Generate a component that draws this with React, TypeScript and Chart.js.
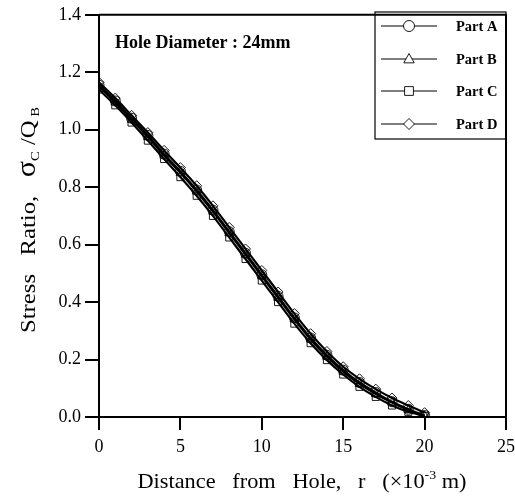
import React, { useEffect, useRef } from "react";
import { Chart, registerables } from "chart.js";

Chart.register(...registerables);

const distances = [0, 1, 2, 3, 4, 5, 6, 7, 8, 9, 10, 11, 12, 13, 14, 15, 16, 17, 18, 19, 20];
const partA = [1.155, 1.1, 1.04, 0.98, 0.915, 0.855, 0.79, 0.72, 0.645, 0.57, 0.495, 0.42, 0.345, 0.275, 0.215, 0.163, 0.12, 0.085, 0.053, 0.027, 0.005];
const partB = [1.15, 1.095, 1.035, 0.975, 0.91, 0.85, 0.785, 0.715, 0.64, 0.565, 0.49, 0.415, 0.34, 0.27, 0.21, 0.158, 0.115, 0.08, 0.05, 0.024, 0.004];
const partC = [1.14, 1.085, 1.025, 0.962, 0.898, 0.835, 0.77, 0.7, 0.625, 0.55, 0.475, 0.4, 0.325, 0.257, 0.198, 0.148, 0.105, 0.07, 0.04, 0.018, 0.003];
const partD = [1.165, 1.11, 1.05, 0.99, 0.928, 0.868, 0.805, 0.735, 0.66, 0.585, 0.51, 0.435, 0.36, 0.29, 0.228, 0.175, 0.133, 0.097, 0.066, 0.04, 0.015];
const seriesNames = ["Part A", "Part B", "Part C", "Part D"];
const seriesMarkers = ["circle", "triangle", "rect", "rectRot"];
const xTicks = [0, 5, 10, 15, 20, 25];
const yTicks = [0, 0.2, 0.4, 0.6, 0.8, 1.0, 1.2, 1.4];

const SERIF = '"Liberation Serif", "DejaVu Serif", serif';

function drawMarker(ctx: CanvasRenderingContext2D, style: string, x: number, y: number, r: number) {
  ctx.beginPath();
  if (style === "circle") {
    ctx.arc(x, y, r, 0, Math.PI * 2);
  } else if (style === "triangle") {
    ctx.moveTo(x, y - r);
    ctx.lineTo(x + r * 0.95, y + r * 0.7);
    ctx.lineTo(x - r * 0.95, y + r * 0.7);
    ctx.closePath();
  } else if (style === "rect") {
    const s = r * 0.8;
    ctx.rect(x - s, y - s, 2 * s, 2 * s);
  } else {
    ctx.moveTo(x, y - r);
    ctx.lineTo(x + r, y);
    ctx.lineTo(x, y + r);
    ctx.lineTo(x - r, y);
    ctx.closePath();
  }
  ctx.fill();
  ctx.stroke();
}

function drawRuns(ctx: CanvasRenderingContext2D, parts: [string, number, number][], targetLen: number, weight: string) {
  let total = 0;
  parts.forEach(([t, s]) => {
    ctx.font = `${weight} ${s}px ${SERIF}`;
    total += ctx.measureText(t).width;
  });
  const k = targetLen / total;
  ctx.save();
  ctx.scale(k, 1);
  let px = -total / 2;
  parts.forEach(([t, s, dy]) => {
    ctx.font = `${weight} ${s}px ${SERIF}`;
    ctx.fillText(t, px, dy);
    px += ctx.measureText(t).width;
  });
  ctx.restore();
}

const decorPlugin = {
  id: "decor",
  afterDraw(chart: any) {
    const ctx: CanvasRenderingContext2D = chart.ctx;
    const { left, right, top, bottom } = chart.chartArea;
    ctx.save();
    ctx.strokeStyle = "#000";
    ctx.lineWidth = 2;
    ctx.beginPath();
    ctx.moveTo(left, top);
    ctx.lineTo(right, top);
    ctx.lineTo(right, bottom);
    ctx.stroke();

    ctx.fillStyle = "#000";
    ctx.font = `bold 18px ${SERIF}`;
    ctx.textAlign = "left";
    ctx.textBaseline = "middle";
    ctx.fillText("Hole Diameter : 24mm", 115, 43);

    // legend box
    const lx = 375, ly = 12, lw = right - 375, lh = 127;
    ctx.lineWidth = 1.2;
    ctx.strokeRect(lx, ly, lw, lh);
    const rows = [26, 59, 91, 124];
    rows.forEach((ry, i) => {
      ctx.lineWidth = 1.2;
      ctx.strokeStyle = "#000";
      ctx.beginPath();
      ctx.moveTo(381, ry);
      ctx.lineTo(437, ry);
      ctx.stroke();
      ctx.fillStyle = "#fff";
      ctx.lineWidth = 0.9;
      drawMarker(ctx, seriesMarkers[i], 409, ry, 5.5);
      ctx.fillStyle = "#000";
      ctx.textAlign = "left";
      ctx.textBaseline = "middle";
      ctx.font = `bold 14.5px ${SERIF}`;
      ctx.fillText(seriesNames[i], 456, ry + 1);
    });

    ctx.textAlign = "left";
    ctx.textBaseline = "alphabetic";

    ctx.save();
    ctx.translate(302, 488);
    drawRuns(
      ctx,
      [
        ["Distance   from   Hole,   r   (\u00d710", 21, 0],
        ["-3", 13, -9],
        [" m)", 21, 0],
      ],
      329,
      "normal"
    );
    ctx.restore();

    ctx.save();
    ctx.translate(35, 220);
    ctx.rotate(-Math.PI / 2);
    drawRuns(
      ctx,
      [
        ["Stress   Ratio,   ", 22, 0],
        ["\u03c3", 27, 0],
        ["C", 13, 4],
        [" /Q", 22, 0],
        [" B", 13, 4],
      ],
      226,
      "normal"
    );
    ctx.restore();
    ctx.restore();
  },
};

export default function App() {
  const ref = useRef<HTMLCanvasElement | null>(null);
  useEffect(() => {
    if (!ref.current) return;
    const makeDs = (label: string, data: number[], style: string) => ({
      label,
      data: distances.map((x, i) => ({ x, y: data[i] })),
      borderColor: "#000",
      backgroundColor: "#fff",
      borderWidth: 2.2,
      pointStyle: style,
      pointRadius: 5,
      pointBorderWidth: 0.9,
      pointBorderColor: "#000",
      pointBackgroundColor: "rgba(255,255,255,0)",
      tension: 0.3,
      showLine: true,
      fill: false,
    });
    const chart = new Chart(ref.current, {
      type: "scatter",
      data: {
        datasets: [
          makeDs(seriesNames[0], partA, seriesMarkers[0]),
          makeDs(seriesNames[1], partB, seriesMarkers[1]),
          makeDs(seriesNames[2], partC, seriesMarkers[2]),
          makeDs(seriesNames[3], partD, seriesMarkers[3]),
        ],
      },
      options: {
        animation: false,
        responsive: false,
        maintainAspectRatio: false,
        layout: { padding: { top: 12, right: 9, left: 0, bottom: 0 } },
        plugins: { legend: { display: false }, tooltip: { enabled: false } },
        scales: {
          x: {
            type: "linear",
            min: 0,
            max: 25,
            afterBuildTicks: (s: any) => {
              s.ticks = xTicks.map((v) => ({ value: v }));
            },
            afterFit: (s: any) => {
              s.height = 82;
              s.paddingRight = 0;
              s.paddingLeft = 0;
            },
            grid: { display: true, drawOnChartArea: false, drawTicks: true, tickLength: 13, color: "#000", lineWidth: 2 },
            border: { display: true, color: "#000", width: 2 },
            ticks: { color: "#000", font: { family: SERIF, size: 18 }, padding: 6, maxRotation: 0 },
          },
          y: {
            type: "linear",
            min: 0,
            max: 1.4,
            afterBuildTicks: (s: any) => {
              s.ticks = yTicks.map((v) => ({ value: v }));
            },
            afterFit: (s: any) => {
              s.width = 99;
            },
            grid: { display: true, drawOnChartArea: false, drawTicks: true, tickLength: 14, color: "#000", lineWidth: 2 },
            border: { display: true, color: "#000", width: 2 },
            ticks: {
              color: "#000",
              font: { family: SERIF, size: 18 },
              padding: 4,
              callback: (v: any) => Number(v).toFixed(1),
            },
          },
        },
      },
      plugins: [decorPlugin],
    } as any);
    return () => chart.destroy();
  }, []);
  return (
    <div style={{ position: "absolute", left: 0, top: 0, width: 515, height: 499, background: "#fff" }}>
      <canvas ref={ref} width={515} height={499} style={{ width: 515, height: 499, display: "block" }} />
    </div>
  );
}
